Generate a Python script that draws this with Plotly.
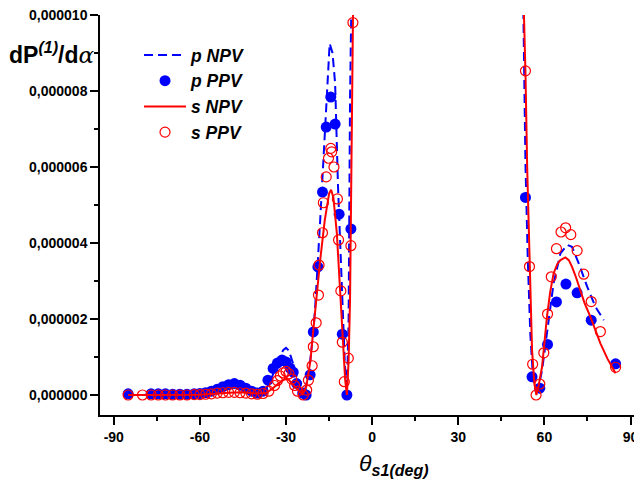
import plotly.graph_objects as go

# values in units of 1e-6
p_npv_x = [-85, -80, -75, -70, -65, -60, -57, -54, -51, -49, -46, -43, -40, -37, -35, -33, -31, -30, -29, -27,
           -25.5, -24.5, -23.5, -22, -20.5, -19.9, -18.1, -16.5, -15.5, -14.8, -13.8, -12.9, -11.9, -10.5, -9.5,
           -8.8, -8.2, -7.7, -7.2, None,
           52.6, 53.4, 54.2, 55.1, 56.0, 56.9, 58, 59.2, 60.9, 63.2, 65.6, 67.9, 69.6, 72.0, 74.9, 77.8, 80.7]
p_npv_y = [0.0, 0.0, 0.0, 0.01, 0.02, 0.05, 0.1, 0.18, 0.26, 0.3, 0.26, 0.15, 0.08, 0.15, 0.45, 0.85, 1.18, 1.24,
           1.17, 0.7, 0.25, 0.08, 0.1, 0.6, 1.66, 2.24, 4.6, 7.0, 8.5, 9.25, 9.0, 8.2, 5.5, 2.5, 0.8,
           0.05, 2.0, 7.8, 10.5, None,
           10.5, 6.1, 3.6, 1.6, 0.5, 0.13, 0.2, 0.66, 1.63, 2.94, 3.73, 3.95, 3.9, 3.46, 2.85, 2.32, 1.97]

p_ppv_x = [-85, -77, -74.5, -72, -69.5, -67, -64.5, -62, -60, -58, -56, -54, -52, -50, -48, -46, -44, -42, -40,
           -38, -36.3, -34.5, -33, -31.4, -30, -28.6, -27.5, -26.3, -24.2, -23, -21.6, -20.5, -18.9, -17.3,
           -16.0, -14.4, -12.9, -11.5, -10.4, -8.8, -7.4,
           53.4, 55.7, 58.4, 61.1, 64.2, 67.5, 71.4, 76.3, 84.8]
p_ppv_y = [0.03, 0.03, 0.03, 0.03, 0.02, 0.02, 0.02, 0.03, 0.04, 0.06, 0.1, 0.15, 0.22, 0.27, 0.3, 0.26, 0.18,
           0.1, 0.05, 0.1, 0.39, 0.7, 0.84, 0.92, 0.87, 0.71, 0.6, 0.3, 0.05, 0.0, 0.53, 1.66, 3.37, 5.34,
           7.05, 7.84, 7.13, 4.76, 1.6, 0.0, 4.37,
           5.2, 0.48, 0.18, 1.33, 2.45, 2.92, 2.69, 1.97, 0.82]

s_npv_x = [-85, -80, -75, -70, -65, -60, -55, -50, -45, -40, -37, -35, -33, -31, -30, -29, -27, -25, -24.2, -23,
           -21.5, -20.6, -19.5, -18.1, -16.5, -15.8, -15, -14.3, -13.5, -12.3, -11.2, -10.1, -9.4, -8.8, -8.2,
           -7.7, -7.0, -6.6, None,
           52.7, 53.4, 54.0, 54.8, 55.7, 56.5, 57.2, 58.0, 59.2, 60.9, 62.0, 63.2, 64.5, 65.6, 67.3, 68.5, 69.6,
           71, 72.5, 74, 76.0, 78, 79.5, 82, 84.8]
s_npv_y = [0.0, 0.0, 0.0, 0.0, 0.0, 0.01, 0.03, 0.06, 0.07, 0.04, 0.05, 0.15, 0.28, 0.39, 0.42, 0.4, 0.22, 0.06,
           0.02, 0.2, 0.9, 1.63, 2.5, 3.55, 4.6, 4.95, 5.3, 5.4, 5.2, 4.26, 2.76, 1.18, 0.4, 0.0, 0.9,
           2.5, 7.8, 10.5, None,
           10.5, 8.5, 6.0, 3.4, 1.18, 0.3, 0.0, 0.25, 0.75, 2.06, 2.7, 3.2, 3.45, 3.55, 3.62, 3.55, 3.38,
           3.1, 2.76, 2.42, 2.06, 1.68, 1.36, 0.95, 0.57]

s_ppv_x = [-85, -80, -77, -74.5, -72, -69.5, -67, -64.5, -62, -60, -58, -56, -54, -52, -50, -48, -46, -44, -42,
           -40, -38, -36, -34, -33, -32, -31, -30, -29, -28, -27, -26, -24, -22.8, -22.2, -20.9, -20.5, -19.5,
           -18.7, -18.5, -17.3, -17.0, -16.0, -15.2, -14.4, -14.1, -13.3, -12.1, -11.7, -10.9, -10.4, -9.7,
           -8.3, -7.4, -6.7,
           53.4, 54.8, 55.9, 57.1, 58.4, 59.8, 61.1, 62.4, 64.2, 65.8, 67.4, 69.2, 71.4, 73.7, 76.3, 79.5, 84.8]
s_ppv_y = [0.0, 0.0, 0.0, 0.0, 0.0, 0.0, 0.0, 0.0, 0.01, 0.01, 0.02, 0.03, 0.05, 0.06, 0.07, 0.07, 0.06, 0.05,
           0.03, 0.02, 0.04, 0.1, 0.25, 0.38, 0.5, 0.58, 0.62, 0.56, 0.42, 0.25, 0.1, 0.0, 0.13, 0.39, 0.77,
           1.27, 1.9, 2.63, 3.42, 4.27, 5.06, 5.74, 6.23, 6.49, 6.4, 6.0, 5.16, 4.08, 2.74, 1.39, 0.35,
           0.97, 3.93, 9.8,
           8.53, 3.38, 0.81, 0.0, 0.29, 1.11, 2.13, 3.11, 3.85, 4.29, 4.4, 4.22, 3.8, 3.18, 2.46, 1.67, 0.73]

x_ticks = [-90, -60, -30, 0, 30, 60, 90]
x_tick_labels = ["-90", "-60", "-30", "0", "30", "60", "90"]
y_ticks = [0, 2, 4, 6, 8, 10]
y_tick_labels = ["0,000000", "0,000002", "0,000004", "0,000006", "0,000008", "0,000010"]

BLUE = "#0000FF"
RED = "#FF0000"

fig = go.Figure()
fig.add_trace(go.Scatter(x=p_npv_x, y=p_npv_y, mode="lines", name="p NPV",
                         line=dict(color=BLUE, width=2, dash="9px,5px"), connectgaps=False))
fig.add_trace(go.Scatter(x=p_ppv_x, y=p_ppv_y, mode="markers", name="p PPV",
                         marker=dict(color=BLUE, size=11, symbol="circle"), cliponaxis=True))
fig.add_trace(go.Scatter(x=s_npv_x, y=s_npv_y, mode="lines", name="s NPV",
                         line=dict(color=RED, width=2), connectgaps=False))
fig.add_trace(go.Scatter(x=s_ppv_x, y=s_ppv_y, mode="markers", name="s PPV",
                         marker=dict(color=RED, size=10, symbol="circle-open",
                                     line=dict(color=RED, width=1.2)), cliponaxis=True))

FONT = "Liberation Sans"
tickfont = dict(family=FONT, size=14, color="black", weight="bold")

fig.update_layout(
    width=634, height=478,
    margin=dict(l=92, r=0, t=7, b=71),
    plot_bgcolor="white", paper_bgcolor="white",
    showlegend=True,
    legend=dict(x=0.072, y=0.945, xanchor="left", yanchor="top",
                font=dict(family=FONT, size=17.5, color="black", weight="bold", style="italic"),
                bgcolor="rgba(0,0,0,0)", tracegroupgap=0, itemwidth=42),
    xaxis=dict(range=[-94.8, 94.0], tickvals=x_ticks, ticktext=x_tick_labels,
               showgrid=False, zeroline=False, showline=True, linecolor="black", linewidth=1.5,
               ticks="outside", ticklen=8, tickwidth=1.5, tickcolor="black", tickfont=tickfont,
               ticklabeloverflow="allow",
               minor=dict(dtick=15, tick0=0, ticks="outside", ticklen=4, tickwidth=1.5, tickcolor="black")),
    yaxis=dict(range=[-0.526, 10.0], tickvals=y_ticks, ticktext=y_tick_labels,
               showgrid=False, zeroline=False, showline=True, linecolor="black", linewidth=1.5,
               ticks="outside", ticklen=8, tickwidth=1.5, tickcolor="black", tickfont=tickfont,
               ticklabeloverflow="allow",
               minor=dict(dtick=1, tick0=0, ticks="outside", ticklen=4, tickwidth=1.5, tickcolor="black")),
)

fig.add_annotation(xref="paper", yref="paper", x=-0.005, y=0.905, xanchor="right", yanchor="middle",
                   showarrow=False,
                   text="<b>dP<sup><i>(1)</i></sup>/d</b><span style='font-family:DejaVu Serif'><i>α</i></span>",
                   font=dict(family=FONT, size=23, color="black"))
fig.add_annotation(xref="paper", yref="paper", x=0.475, y=-0.083, xanchor="left", yanchor="top",
                   showarrow=False,
                   text="<i>θ</i><sub><b><i>s1</i></b><span style='font-size:16px'><b><i>(deg)</i></b></span></sub>",
                   font=dict(family=FONT, size=23, color="black"))

fig.write_html("out.html")
